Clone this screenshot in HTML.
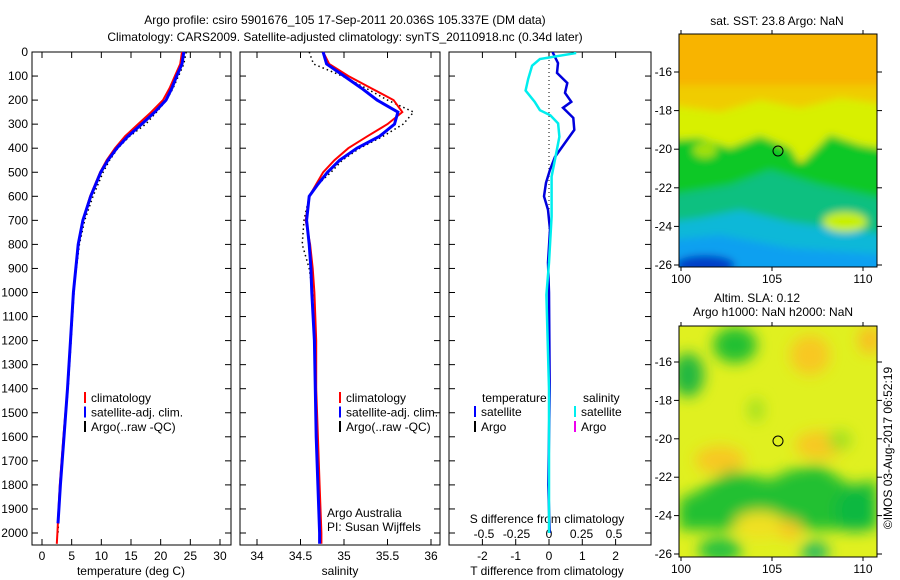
<!DOCTYPE html>
<html><head><meta charset="utf-8"><style>
body{margin:0;background:#fff}
svg{display:block}
text{font-family:"Liberation Sans",sans-serif;font-size:12px;fill:#000}
</style></head><body>
<svg id="c" width="900" height="580" xmlns="http://www.w3.org/2000/svg">
<defs>
<filter id="b1" x="-20%" y="-20%" width="140%" height="140%"><feGaussianBlur stdDeviation="4"/></filter>
<filter id="b2" x="-20%" y="-20%" width="140%" height="140%"><feGaussianBlur stdDeviation="7"/></filter>
<clipPath id="cm1"><rect x="679" y="34" width="198" height="233"/></clipPath>
<clipPath id="cm2"><rect x="679" y="326" width="198" height="231"/></clipPath>
</defs>
<text x="345" y="24" text-anchor="middle" font-size="13">Argo profile: csiro 5901676_105 17-Sep-2011 20.036S 105.337E (DM data)</text>
<text x="345" y="41" text-anchor="middle" font-size="13">Climatology: CARS2009. Satellite-adjusted climatology: synTS_20110918.nc (0.34d later)</text>
<g id="maps">
<g clip-path="url(#cm1)">
<rect x="679" y="34" width="198" height="233" fill="#f0c800"/>
<g filter="url(#b1)">
<rect x="670" y="30" width="220" height="55" fill="#f8b400"/>
<rect x="670" y="85" width="220" height="30" fill="#f0cc00"/>
<path d="M670 105 L720 112 L760 100 L800 108 L840 98 L890 105 L890 160 L670 160Z" fill="#d8f000"/>
<path d="M670 140 L700 138 L730 148 L760 136 L790 148 L800 165 L830 135 L860 145 L890 150 L890 290 L670 290Z" fill="#10c828"/>
<path d="M670 195 L730 185 L770 170 L820 185 L890 200 L890 290 L670 290Z" fill="#10c080"/>
<path d="M670 222 L700 218 L740 210 L790 222 L850 230 L890 235 L890 290 L670 290Z" fill="#10b8d8"/>
<path d="M670 240 L720 235 L790 248 L890 255 L890 290 L670 290Z" fill="#10a0f0"/>
<ellipse cx="705" cy="265" rx="30" ry="10" fill="#0040c8"/>
<ellipse cx="845" cy="222" rx="22" ry="10" fill="#c8f000"/>
<ellipse cx="705" cy="150" rx="12" ry="8" fill="#a0e010"/>
</g>
</g>
<rect x="679" y="34" width="198" height="233" fill="none" stroke="#000"/>
<circle cx="778" cy="151" r="5" fill="none" stroke="#000"/>
<g clip-path="url(#cm2)">
<rect x="679" y="326" width="198" height="231" fill="#e0f020"/>
<g filter="url(#b2)">
<ellipse cx="735" cy="345" rx="22" ry="18" fill="#20c030"/>
<ellipse cx="688" cy="375" rx="16" ry="22" fill="#20b840"/>
<ellipse cx="810" cy="355" rx="20" ry="20" fill="#f8c820"/>
<ellipse cx="870" cy="340" rx="12" ry="14" fill="#f8c020"/>
<ellipse cx="720" cy="460" rx="25" ry="14" fill="#f8c820"/>
<ellipse cx="820" cy="445" rx="25" ry="14" fill="#f8c820"/>
<ellipse cx="756" cy="410" rx="8" ry="12" fill="#a0e020"/>
<ellipse cx="840" cy="440" rx="12" ry="10" fill="#a0e020"/>
<path d="M679 500 L700 490 L730 470 L770 480 L790 470 L820 465 L850 485 L877 480 L877 530 L679 530Z" fill="#20c030"/>
<ellipse cx="855" cy="510" rx="20" ry="22" fill="#10b840"/>
<ellipse cx="760" cy="525" rx="26" ry="14" fill="#f0e020"/>
<ellipse cx="790" cy="530" rx="12" ry="10" fill="#f8c820"/>
<ellipse cx="720" cy="550" rx="22" ry="12" fill="#20c040"/>
<ellipse cx="815" cy="552" rx="14" ry="10" fill="#20b860"/>
</g>
</g>
<rect x="679" y="326" width="198" height="231" fill="none" stroke="#000"/>
<circle cx="778" cy="441" r="5" fill="none" stroke="#000"/>
<text x="777" y="25" text-anchor="middle">sat. SST: 23.8 Argo: NaN</text>
<text x="757" y="302" text-anchor="middle">Altim. SLA: 0.12</text>
<text x="773" y="316" text-anchor="middle">Argo h1000: NaN h2000: NaN</text>
<text transform="translate(892,448) rotate(-90)" text-anchor="middle">©IMOS 03-Aug-2017 06:52:19</text>
</g>
</svg>
<script>
const depthTicks=[0,100,200,300,400,500,600,700,800,900,1000,1100,1200,1300,1400,1500,1600,1700,1800,1900,2000];
const tempTicks=[0,5,10,15,20,25,30];
const salTicks=[34,34.5,35,35.5,36];
const tdiffTicks=[-2,-1,0,1,2];
const sdiffTicks=[-0.5,-0.25,0,0.25,0.5];
const sdiffLabels=["-0.5","-0.25","0","0.25","0.5"];
const latTicks=[-16,-18,-20,-22,-24,-26];
const lonTicks=[100,105,110];

const tDepth=[0,50,100,150,200,250,300,350,400,450,500,600,700,800,900,1000,1200,1400,1600,1800,2000,2045];
const tClim=[23.6,23.3,22.4,21.5,20.4,18.4,16.2,14.0,12.3,10.9,9.8,8.1,6.9,6.1,5.7,5.3,4.8,4.3,3.6,3.0,2.6,2.5];
const tSatDepth=[0,50,100,150,200,250,300,350,400,450,500,600,700,800,900,1000,1200,1400,1600,1800,1960];
const tSat=[23.9,23.6,22.7,21.9,20.9,19.0,16.8,14.5,12.6,11.1,9.9,8.2,6.9,6.1,5.7,5.3,4.8,4.3,3.7,3.1,2.7];
const tArgoDepth=[0,50,100,150,200,250,300,350,400,450,500,600,700,800,900,1000,1200,1400,1600,1800,2000];
const tArgo=[24.3,23.9,23.0,22.1,21.0,19.3,17.5,14.8,12.8,11.4,10.3,8.6,7.2,6.3,5.8,5.4,4.9,4.4,3.7,3.1,2.7];

const sDepth=[0,50,100,150,200,250,300,350,400,450,500,550,600,700,800,900,1000,1200,1400,1600,1800,2000,2045];
const sClim=[34.76,34.83,35.05,35.31,35.57,35.67,35.5,35.27,35.05,34.89,34.76,34.68,34.6,34.56,34.61,34.64,34.66,34.68,34.68,34.7,34.72,34.74,34.74];
const sSat=[34.76,34.8,35.0,35.2,35.38,35.62,35.58,35.41,35.15,34.95,34.81,34.7,34.6,34.57,34.6,34.62,34.63,34.66,34.67,34.68,34.7,34.72,34.72];
const sArgo=[34.6,34.65,34.98,35.25,35.5,35.8,35.68,35.45,35.18,34.98,34.85,34.7,34.6,34.54,34.52,34.6,34.64,34.66,34.67,34.68,34.7,34.72,34.72];

const dtDepth=[0,4,46,87,129,170,207,232,274,324,378,436,490,544,600,656,739,876,1000,1400,1800,2000];
const dtSat=[0.12,0.12,0.27,0.24,0.55,0.48,0.67,0.42,0.73,0.76,0.48,0.18,0.03,-0.09,-0.15,-0.03,0.03,-0.03,0.0,0.02,-0.02,0.02];
const dsDepth=[0,5,29,57,112,160,207,242,263,297,352,436,518,684,876,1010,1400,1800,2000];
const dsSat=[0.2,0.2,-0.07,-0.13,-0.16,-0.18,-0.11,-0.07,0.01,0.07,0.08,0.05,0.02,0.02,0.0,-0.02,0.0,0.0,0.0];

const NS="http://www.w3.org/2000/svg";
const svg=document.getElementById('c');
const Y=d=>52+d*0.2405;
const XT=t=>42+t*5.933;
const XS=s=>257+(s-34)*87;
const XDT=v=>549+v*33.3;
const XDS=v=>549+v*130;
const MX=lon=>681+(lon-100)*18.2;
const MY1=lat=>72+(-16-lat)*19.3;
const MY2=lat=>362+(-16-lat)*19.2;
function mk(tag,at,parent){const e=document.createElementNS(NS,tag);for(const k in at)e.setAttribute(k,at[k]);(parent||svg).appendChild(e);return e;}
function txt(x,y,s,anchor,parent){const e=mk('text',{x:x,y:y,'text-anchor':anchor||'start'},parent);e.textContent=s;return e;}
const panels=[[32,231],[240,440],[449,651]];
const ptop=52,bot=545;
panels.forEach((p,i)=>{
  const r=mk('rect',{x:p[0],y:ptop,width:p[1]-p[0],height:bot-ptop,fill:'none',stroke:'#000'});
  
  
  depthTicks.forEach(d=>{
    const l=mk('line',{x1:p[0],x2:p[0]+6,y1:Y(d),y2:Y(d),stroke:'#000'});
    
    
    const l2=mk('line',{x1:p[1]-6,x2:p[1],y1:Y(d),y2:Y(d),stroke:'#000'});
    
    
  });
});
depthTicks.forEach(d=>{const t=txt(28,Y(d)+4,String(d),'end');
  
  });
function xaxis(ticks,labels,fx,ly){
  ticks.forEach((v,i)=>{const x=fx(v);
    const l=mk('line',{x1:x,x2:x,y1:bot-6,y2:bot,stroke:'#000'});
    
    
    const l2=mk('line',{x1:x,x2:x,y1:ptop,y2:ptop+6,stroke:'#000'});
    
    
    const t=txt(x,ly,labels[i],'middle');
    
    });
}
xaxis(tempTicks,tempTicks.map(String),XT,560);
xaxis(salTicks,salTicks.map(String),XS,560);
xaxis(tdiffTicks,tdiffTicks.map(String),XDT,560);
sdiffTicks.forEach((v,i)=>{const t=txt(XDS(v),538,sdiffLabels[i],'middle');
  
  });
[[131,'temperature (deg C)','temperature-axis-title'],[340,'salinity','salinity-axis-title'],[547,'T difference from climatology','t-diff-axis-title']].forEach(a=>{
  const t=txt(a[0],575,a[1],'middle');});
const st=txt(547,523,'S difference from climatology','middle');


function line(depths,vals,fx,color,w,dash,name){
  const pts=depths.map((d,i)=>fx(vals[i]).toFixed(1)+','+Y(d).toFixed(1)).join(' ');
  const at={points:pts,fill:'none',stroke:color,'stroke-width':w};
  if(dash)at['stroke-dasharray']=dash;
  const e=mk('polyline',at);
  
  
}
line(tArgoDepth,tArgo,XT,'#000',1.5,'1.5,3','temp-argo-line');
line(tDepth,tClim,XT,'#ff0000',2,null,'temp-climatology-line');
line(tSatDepth,tSat,XT,'#0000ff',3,null,'temp-satellite-line');
line(sDepth,sArgo,XS,'#000',1.5,'1.5,3','sal-argo-line');
line(sDepth,sClim,XS,'#ff0000',2,null,'sal-climatology-line');
line(sDepth,sSat,XS,'#0000ff',3,null,'sal-satellite-line');
const z=mk('line',{x1:XDT(0),x2:XDT(0),y1:Y(0),y2:Y(750),stroke:'#000','stroke-dasharray':'1,3'});


line(dtDepth,dtSat,XDT,'#0000dd',2.5,null,'t-diff-satellite-line');
line(dsDepth,dsSat,XDS,'#00eeee',2.5,null,'s-diff-satellite-line');
function legend(x,y,color,label,name){
  const g=mk('g',{});
  
  
  mk('line',{x1:x,x2:x,y1:y-10,y2:y+1,stroke:color,'stroke-width':2},g);
  txt(x+6,y,label,'start',g);
}
[['climatology','#ff0000'],['satellite-adj. clim.','#0000ff'],['Argo(..raw -QC)','#000']].forEach((a,i)=>legend(85,402+i*14.5,a[1],a[0],'temp-legend-'+i));
[['climatology','#ff0000'],['satellite-adj. clim.','#0000ff'],['Argo(..raw -QC)','#000']].forEach((a,i)=>legend(340,402+i*14.5,a[1],a[0],'sal-legend-'+i));
const lt=txt(482,402,'temperature');
const ls=txt(583,402,'salinity');
legend(475,416,'#0000ff','satellite','diff-legend-t-sat');
legend(475,431,'#000','Argo','diff-legend-t-argo');
legend(575,416,'#00eeee','satellite','diff-legend-s-sat');
legend(575,431,'#ee00ee','Argo','diff-legend-s-argo');
const a1=txt(327,517,'Argo Australia');
const a2=txt(327,531,'PI: Susan Wijffels');
[[MY1,267,34],[MY2,557,326]].forEach(m=>{
  const fy=m[0],b=m[1],mt=m[2];
  latTicks.forEach(l=>{const y=fy(l);
    const t=txt(672,y+4,String(l),'end');
    
    
    const k=mk('line',{x1:674,x2:679,y1:y,y2:y,stroke:'#000'});
    
    
    const k2=mk('line',{x1:877,x2:882,y1:y,y2:y,stroke:'#000'});
    
    });
  lonTicks.forEach(l=>{const x=MX(l);
    const t=txt(x,b+16,String(l),'middle');
    
    
    const k=mk('line',{x1:x,x2:x,y1:b,y2:b+4,stroke:'#000'});
    
    
    const k2=mk('line',{x1:x,x2:x,y1:mt-4,y2:mt,stroke:'#000'});
    
    });
});
</script>
</body></html>
